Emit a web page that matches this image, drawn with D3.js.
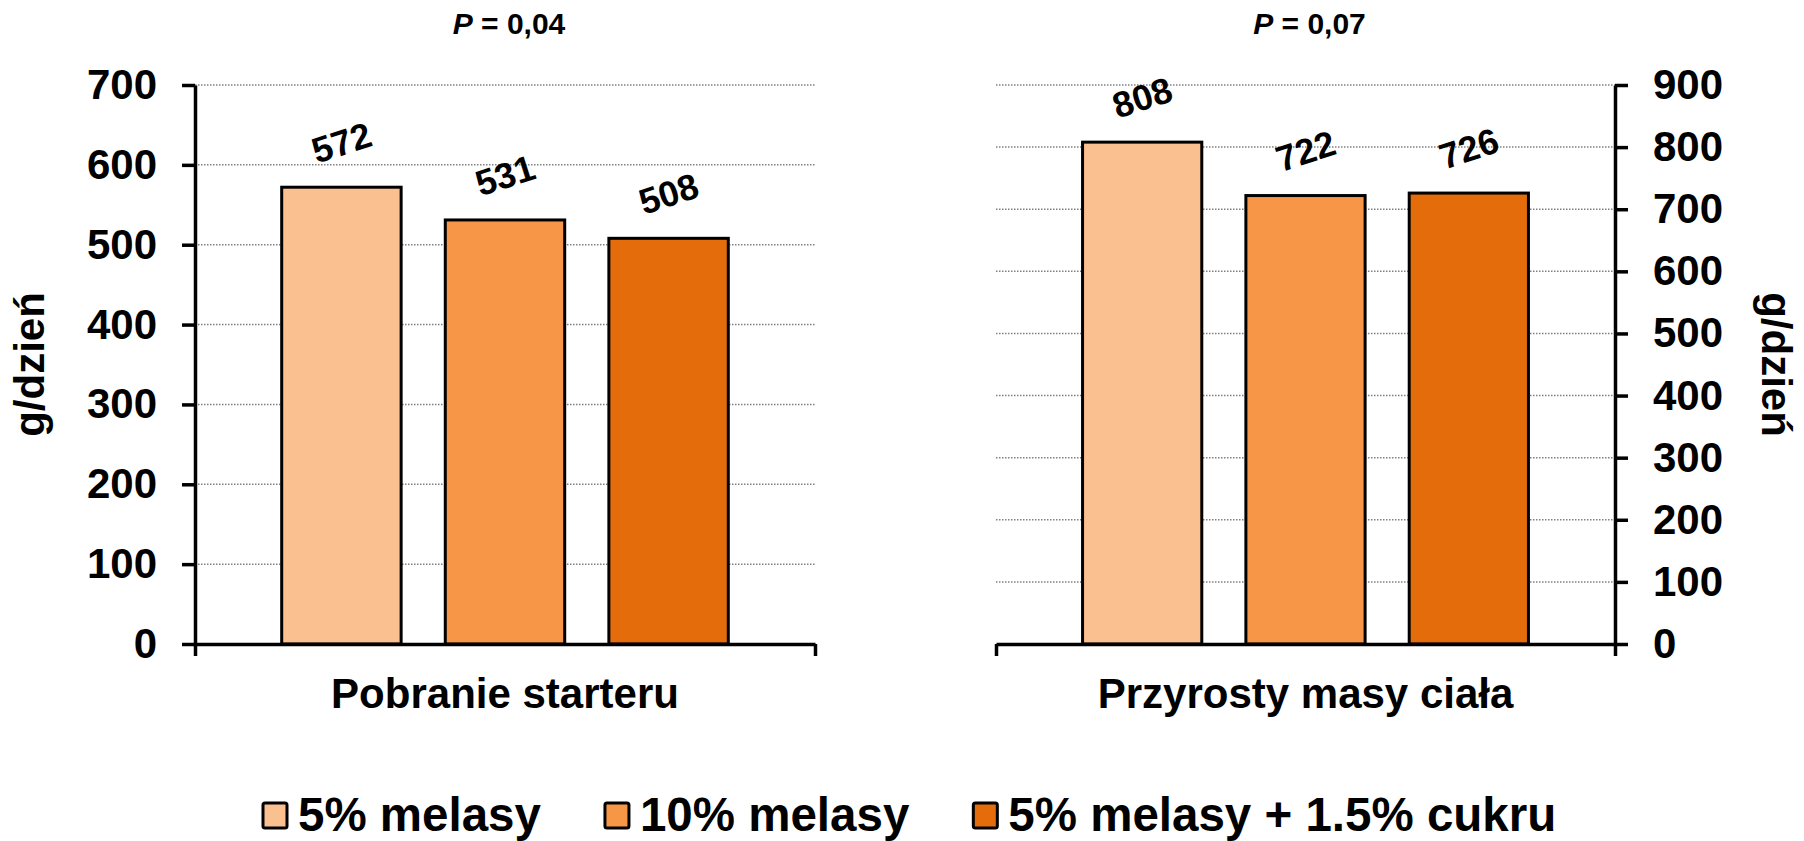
<!DOCTYPE html>
<html>
<head>
    <meta charset="utf-8">
    <title>Melasa - pobranie starteru i przyrosty</title>
    <style>
        html, body {
            margin: 0;
            padding: 0;
            background: #fff;
        }
        svg text {
            font-family: "Liberation Sans", Arial, sans-serif;
            font-weight: bold;
            fill: #000;
        }
        .axis path, .axis line {
            stroke: #000;
            stroke-width: 3.5;
        }
        .grid line {
            stroke: #808080;
            stroke-width: 1.5;
            stroke-dasharray: 1.5 1.5;
        }
    </style>
</head>
<body>
    <div id="chart"></div>

    <script src="https://cdnjs.cloudflare.com/ajax/libs/d3/7.8.5/d3.min.js"></script>
    <script>
        const series = ["5% melasy", "10% melasy", "5% melasy + 1.5% cukru"];
        const colors = ["#FAC090", "#F79646", "#E46C0A"];
        const categories = ["Pobranie starteru", "Przyrosty masy ciała"];
        const intakeValues = [572, 531, 508];
        const gainValues = [808, 722, 726];
        const pValues = ["0,04", "0,07"];
        const intakeTicks = [0, 100, 200, 300, 400, 500, 600, 700];
        const gainTicks = [0, 100, 200, 300, 400, 500, 600, 700, 800, 900];
        const yTitle = "g/dzień";

        const width = 1804, height = 841;
        const plotTop = 85, plotBottom = 644;

        const svg = d3.select("#chart")
            .append("svg")
            .attr("width", width)
            .attr("height", height);

        function drawPanel(opts) {
            const y = d3.scaleLinear()
                .domain([0, d3.max(opts.ticks)])
                .range([plotBottom, plotTop]);

            const x = d3.scaleBand()
                .domain(series)
                .range([opts.x0, opts.x1])
                .paddingInner(0.27)
                .paddingOuter(0.53);

            const g = svg.append("g");

            // dotted grid
            g.append("g")
                .attr("class", "grid")
                .selectAll("line")
                .data(opts.ticks.filter(d => d > 0))
                .enter()
                .append("line")
                .attr("x1", opts.x0)
                .attr("x2", opts.x1)
                .attr("y1", d => y(d))
                .attr("y2", d => y(d));

            // bars
            g.selectAll("rect.bar")
                .data(opts.values)
                .enter()
                .append("rect")
                .attr("class", "bar")
                .attr("x", (d, i) => x(series[i]))
                .attr("y", d => y(d))
                .attr("width", x.bandwidth())
                .attr("height", d => plotBottom - y(d))
                .attr("fill", (d, i) => colors[i])
                .attr("stroke", "#000")
                .attr("stroke-width", 3);

            // value labels
            g.selectAll("text.value")
                .data(opts.values)
                .enter()
                .append("text")
                .attr("class", "value")
                .attr("text-anchor", "middle")
                .attr("dy", "0.36em")
                .style("font-size", "36px")
                .attr("transform", (d, i) =>
                    `translate(${x(series[i]) + x.bandwidth() / 2},${y(d) - 45}) rotate(-18)`)
                .text(d => d);

            // x axis with end ticks only
            const xl = d3.scaleLinear().domain([0, 1]).range([opts.x0, opts.x1]);
            g.append("g")
                .attr("class", "axis")
                .attr("transform", `translate(0,${plotBottom})`)
                .call(d3.axisBottom(xl).tickValues([0, 1]).tickFormat("").tickSize(12).tickSizeOuter(0));

            // y axis
            const axis = opts.side === "left" ? d3.axisLeft(y) : d3.axisRight(y);
            const ya = g.append("g")
                .attr("class", "axis")
                .attr("transform", `translate(${opts.side === "left" ? opts.x0 : opts.x1},0)`)
                .call(axis.tickValues(opts.ticks).tickSize(13).tickSizeOuter(0).tickPadding(25));
            ya.selectAll("text")
                .style("font-size", "42px")
                .style("font-family", "'Liberation Sans', Arial, sans-serif")
                .style("font-weight", "bold");

            // y title
            g.append("text")
                .attr("text-anchor", "middle")
                .style("font-size", "42px")
                .attr("transform", opts.side === "left"
                    ? `translate(44,${(plotTop + plotBottom) / 2}) rotate(-90)`
                    : `translate(1762,${(plotTop + plotBottom) / 2}) rotate(90)`)
                .text(yTitle);

            // category label
            g.append("text")
                .attr("text-anchor", "middle")
                .attr("x", (opts.x0 + opts.x1) / 2)
                .attr("y", 708)
                .style("font-size", "42px")
                .text(opts.category);

            // P value
            const p = g.append("text")
                .attr("text-anchor", "middle")
                .attr("x", (opts.x0 + opts.x1) / 2 + 4)
                .attr("y", 34)
                .style("font-size", "30px");
            p.append("tspan").style("font-style", "italic").text("P");
            p.append("tspan").text(" = " + opts.p);
        }

        drawPanel({
            x0: 195, x1: 815, side: "left",
            ticks: intakeTicks, values: intakeValues,
            category: categories[0], p: pValues[0]
        });

        drawPanel({
            x0: 996, x1: 1615, side: "right",
            ticks: gainTicks, values: gainValues,
            category: categories[1], p: pValues[1]
        });

        // legend
        const legend = svg.append("g").attr("transform", "translate(0,831)");
        let lx = 263;
        series.forEach((s, i) => {
            const item = legend.append("g");
            item.append("rect")
                .attr("x", lx)
                .attr("y", -28)
                .attr("width", 24)
                .attr("height", 25)
                .attr("rx", 2)
                .attr("fill", colors[i])
                .attr("stroke", "#000")
                .attr("stroke-width", 3);
            const t = item.append("text")
                .attr("x", lx + 35)
                .attr("y", 0)
                .style("font-size", "47.5px")
                .text(s);
            lx += 35 + t.node().getComputedTextLength() + 64;
        });
    </script>
</body>
</html>
